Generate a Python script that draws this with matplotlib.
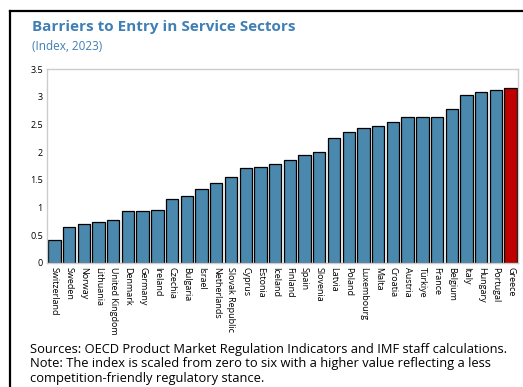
import matplotlib.pyplot as plt
from matplotlib.lines import Line2D
import numpy as np

plt.rcParams['font.family'] = ['Open Sans', 'DejaVu Sans']

countries = ['Switzerland', 'Sweden', 'Norway', 'Lithuania', 'United Kingdom', 'Denmark',
             'Germany', 'Ireland', 'Czechia', 'Bulgaria', 'Israel', 'Netherlands',
             'Slovak Republic', 'Cyprus', 'Estonia', 'Iceland', 'Finland', 'Spain',
             'Slovenia', 'Latvia', 'Poland', 'Luxembourg', 'Malta', 'Croatia', 'Austria',
             'Türkiye', 'France', 'Belgium', 'Italy', 'Hungary', 'Portugal', 'Greece']
values = [0.42, 0.65, 0.71, 0.745, 0.78, 0.94, 0.945, 0.95, 1.15, 1.205, 1.33, 1.44,
          1.55, 1.71, 1.73, 1.79, 1.85, 1.94, 2.00, 2.25, 2.36, 2.43, 2.47, 2.55, 2.63,
          2.635, 2.64, 2.77, 3.03, 3.08, 3.12, 3.16]
yticks = [0, 0.5, 1, 1.5, 2, 2.5, 3, 3.5]
ytick_labels = ['0', '0.5', '1', '1.5', '2', '2.5', '3', '3.5']

blue = '#4a89ad'
red = '#c00000'
title_blue = '#3f7fb4'

fig = plt.figure(figsize=(5.23, 3.87), dpi=100)
ax = fig.add_axes([47 / 523, 1 - 263 / 387, 471 / 523, 194 / 387])

x = np.arange(len(countries))
colors = [red if c == 'Greece' else blue for c in countries]
# soft shadow behind bars
ax.bar(x + 0.06, values, width=0.84, color='#bbbbbb', zorder=1)
ax.bar(x, values, width=0.84, color=colors, edgecolor='black', linewidth=0.9, zorder=2)

ax.set_xlim(-0.5, len(countries) - 0.5)
ax.set_ylim(0, 3.5)
ax.set_yticks(yticks)
ax.set_yticklabels(ytick_labels, fontsize=6.5)
ax.set_xticks(x)
ax.set_xticklabels(countries, rotation=-90, fontsize=6.5, va='top', ha='center')
ax.tick_params(length=0, pad=3)
for s in ax.spines.values():
    s.set_color('#cccccc')
    s.set_linewidth(1)

fig.text(32 / 523, 1 - 27 / 387, 'Barriers to Entry in Service Sectors', fontsize=11,
         fontweight='bold', color=title_blue, va='center')
fig.text(32 / 523, 1 - 47 / 387, '(Index, 2023)', fontsize=8.5, color=title_blue, va='center')

foot = ('Sources: OECD Product Market Regulation Indicators and IMF staff calculations.\n'
        'Note: The index is scaled from zero to six with a higher value reflecting a less\n'
        'competition-friendly regulatory stance.')
fig.text(30 / 523, 1 - 343 / 387, foot, fontsize=9.3, color='black', va='top', linespacing=1.13)

# frame lines (top and left)
fig.add_artist(Line2D([9.5 / 523, 1], [1 - 11 / 387, 1 - 11 / 387], color='black', lw=1.6,
                      transform=fig.transFigure))
fig.add_artist(Line2D([9.5 / 523, 9.5 / 523], [0, 1 - 11 / 387], color='black', lw=1.6,
                      transform=fig.transFigure))

fig.savefig('out.png', dpi=100)
